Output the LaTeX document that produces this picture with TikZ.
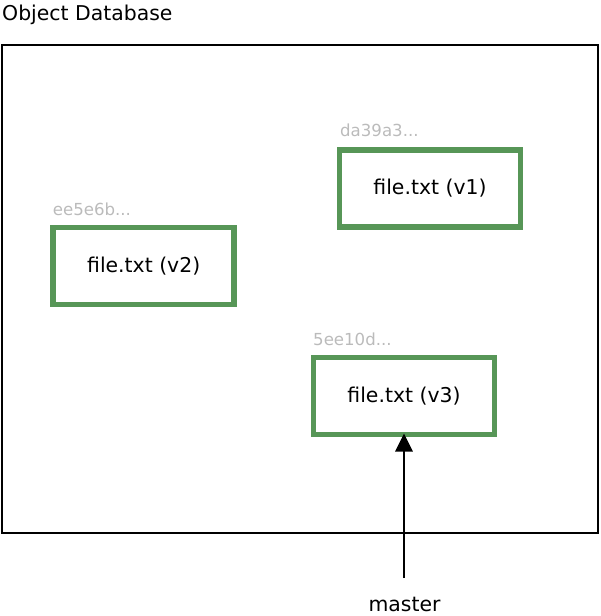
\documentclass[tikz,border=0pt]{standalone}
\usepackage{fontspec}
\setmainfont{DejaVu Sans}
\usetikzlibrary{arrows.meta}
\definecolor{boxgreen}{RGB}{87,150,87}
\definecolor{hashgray}{RGB}{187,187,187}
\begin{document}
\begin{tikzpicture}[x=1pt,y=-1pt,
  filebox/.style={draw=boxgreen, line width=5.5pt, minimum width=181pt, minimum height=77pt, inner sep=0pt, outer sep=0pt, font=\fontsize{20.4}{24}\selectfont},
  hash/.style={anchor=base west, inner sep=0pt, text=hashgray, font=\fontsize{16.6}{20}\selectfont},
  plaintext/.style={inner sep=0pt, font=\fontsize{20.4}{24}\selectfont},
  frame/.style={draw, line width=2.4pt, minimum width=596pt, minimum height=488pt, inner sep=0pt, outer sep=0pt, anchor=north west}]
\useasboundingbox (0,0) rectangle (600,616);
\node[frame] (db) at (2,45) {};
\node[plaintext, anchor=base west] (title) at (2,20) {Object Database};
\node[filebox] (v1) at (430,188.5) {file.txt (v1)};
\node[filebox] (v2) at (143.7,266) {file.txt (v2)};
\node[filebox] (v3) at (404,396) {file.txt (v3)};
\node[hash] (h1) at (340,136.5) {da39a3...};
\node[hash] (h2) at (52.7,215.5) {ee5e6b...};
\node[hash] (h3) at (313,345) {5ee10d...};
\node[plaintext, anchor=base] (master) at (404.5,611) {master};
\coordinate (mtop) at (404,578);
\draw[line width=2.8pt, -{Triangle[width=17pt,length=18pt]}, shorten >=-1pt] (mtop) -- (v3.south);
\end{tikzpicture}
\end{document}
